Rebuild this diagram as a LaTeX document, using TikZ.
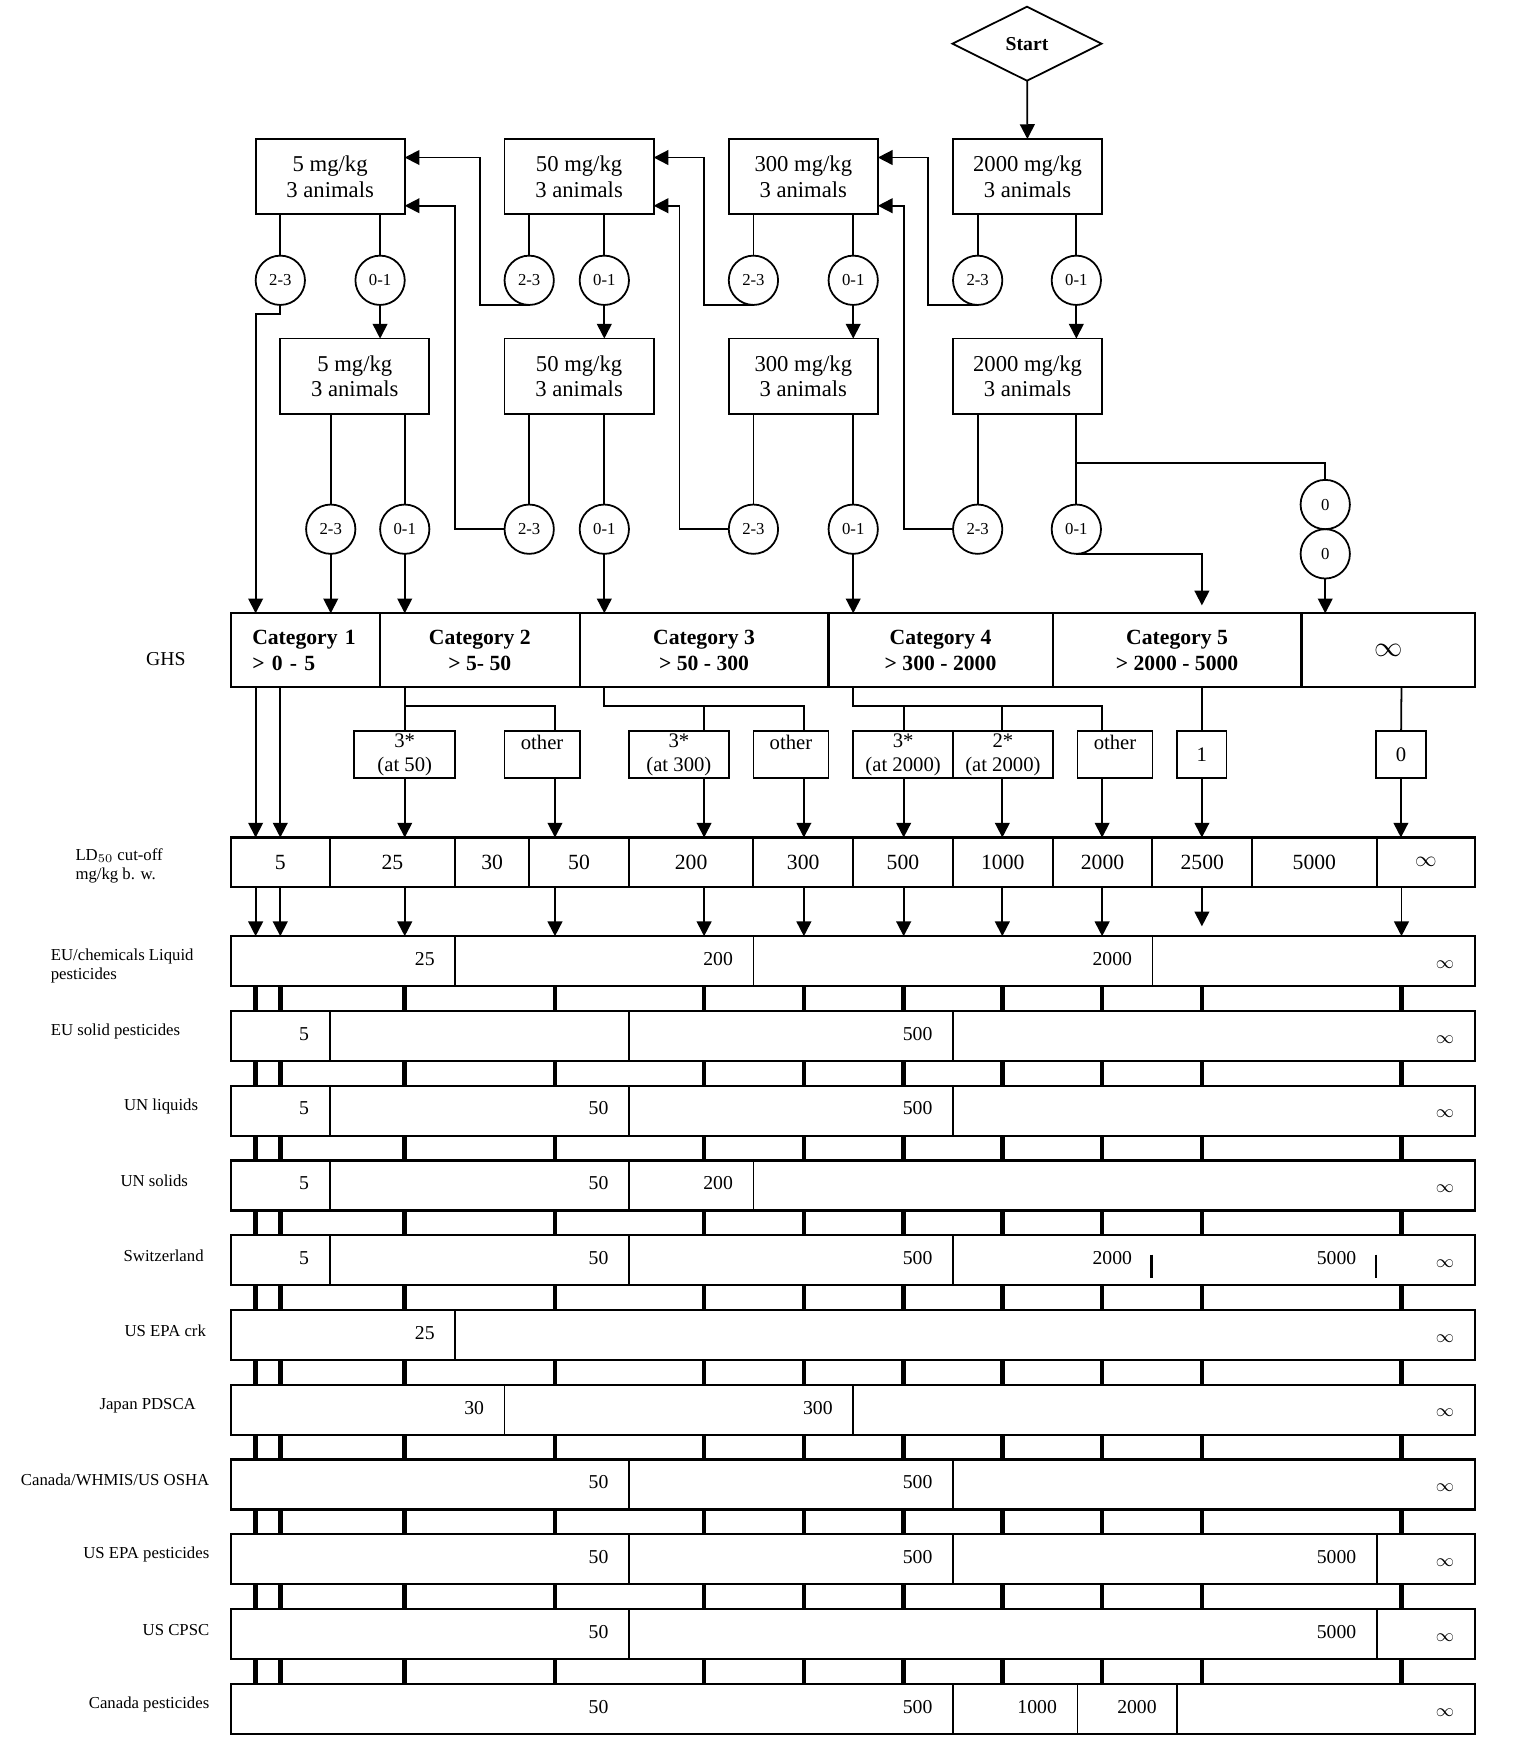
\documentclass[tikz,border=0pt]{standalone}
\usepackage{fontspec}
\setmainfont{Liberation Serif}
\usetikzlibrary{shapes.geometric,arrows.meta,positioning,calc}
\tikzset{
  dosebox/.style={rectangle, draw, line width=0.9pt, align=center, inner sep=0pt, outer sep=0pt,
                  minimum width=2.66cm, minimum height=1.34cm, font=\fontsize{11.5}{13}\selectfont},
  outc/.style={circle, draw, line width=0.9pt, inner sep=0pt, outer sep=0pt, minimum size=0.88cm,
               font=\fontsize{8.5}{10}\selectfont},
  startbox/.style={diamond, draw, line width=0.9pt, inner sep=0pt, outer sep=0pt,
                   minimum width=2.66cm, minimum height=1.32cm, font=\bfseries\fontsize{10}{12}\selectfont},
  catcell/.style={rectangle, draw, line width=1.1pt, align=center, inner sep=0pt, outer sep=0pt,
                  minimum height=1.32cm, font=\bfseries\fontsize{11}{13.5}\selectfont},
  tagbox/.style={rectangle, draw, line width=0.9pt, align=center, inner sep=0pt, outer sep=0pt,
                 minimum height=0.84cm, font=\fontsize{10.5}{12}\selectfont},
  ldcell/.style={rectangle, draw, line width=1.1pt, inner sep=0pt, outer sep=0pt,
                 minimum height=0.88cm, font=\fontsize{11}{13}\selectfont},
  rowbox/.style={rectangle, draw, line width=1.1pt, inner sep=0pt, outer sep=0pt,
                 minimum width=22.2cm, minimum height=0.892cm},
  val/.style={anchor=east, inner sep=0pt, font=\fontsize{10}{12}\selectfont},
  infval/.style={inner sep=0pt, font=\fontsize{9.5}{12}\selectfont},
  rowlabel/.style={anchor=east, inner sep=0pt, font=\fontsize{8.5}{9.7}\selectfont},
  flowarr/.style={-{Triangle[length=7.5pt,width=7.5pt]}, line width=0.9pt},
  flowline/.style={line width=0.9pt},
  bar/.style={line width=2.4pt},
}

\begin{document}
\begin{tikzpicture}[x=0.02cm, y=-0.02cm]
  \useasboundingbox (0,0) rectangle (1349,1568);
  % columns of the cut-off arrows
  \coordinate (col5a) at (228,0);
  \coordinate (col5b) at (250,0);
  \coordinate (col25) at (361,0);
  \coordinate (col50) at (495,0);
  \coordinate (col200) at (628,0);
  \coordinate (col300) at (717,0);
  \coordinate (col500) at (806,0);
  \coordinate (col1000) at (894,0);
  \coordinate (col2000) at (983,0);
  \coordinate (col2500) at (1072,0);
  \coordinate (colinf) at (1250,0);

  % dosing steps
  \node[startbox] (start) at (916,39) {Start};
  \node[dosebox, anchor=north west] (b5a)    at (228,124) {5 mg/kg\\3 animals};
  \node[dosebox, anchor=north west] (b50a)   at (450,124) {50 mg/kg\\3 animals};
  \node[dosebox, anchor=north west] (b300a)  at (650,124) {300 mg/kg\\3 animals};
  \node[dosebox, anchor=north west] (b2000a) at (850,124) {2000 mg/kg\\3 animals};
  \node[dosebox, anchor=north west] (b5b)    at (250,302) {5 mg/kg\\3 animals};
  \node[dosebox, anchor=north west] (b50b)   at (450,302) {50 mg/kg\\3 animals};
  \node[dosebox, anchor=north west] (b300b)  at (650,302) {300 mg/kg\\3 animals};
  \node[dosebox, anchor=north west] (b2000b) at (850,302) {2000 mg/kg\\3 animals};

  \node[outc] (c5a23)    at (250,250) {2-3};
  \node[outc] (c5a01)    at (339,250) {0-1};
  \node[outc] (c50a23)   at (472,250) {2-3};
  \node[outc] (c50a01)   at (539,250) {0-1};
  \node[outc] (c300a23)  at (672,250) {2-3};
  \node[outc] (c300a01)  at (761,250) {0-1};
  \node[outc] (c2000a23) at (872,250) {2-3};
  \node[outc] (c2000a01) at (960,250) {0-1};
  \node[outc] (c5b23)    at (295,472) {2-3};
  \node[outc] (c5b01)    at (361,472) {0-1};
  \node[outc] (c50b23)   at (472,472) {2-3};
  \node[outc] (c50b01)   at (539,472) {0-1};
  \node[outc] (c300b23)  at (672,472) {2-3};
  \node[outc] (c300b01)  at (761,472) {0-1};
  \node[outc] (c2000b23) at (872,472) {2-3};
  \node[outc] (c2000b01) at (960,472) {0-1};
  \node[outc] (cz1) at (1182,450) {0};
  \node[outc] (cz2) at (1182,494) {0};

  % GHS categories
  \node[rowlabel, anchor=center, font=\fontsize{10}{12}\selectfont] (ghs) at (148,588) {GHS};
  \node[catcell, minimum width=2.66cm, text width=1.9cm, align=left, anchor=north west] (cat1) at (206,547) {Category 1\\> 0 - 5};
  \node[catcell, minimum width=3.56cm, right=0pt of cat1] (cat2) {Category 2\\> 5- 50};
  \node[catcell, minimum width=4.44cm, right=0pt of cat2] (cat3) {Category 3\\> 50 - 300};
  \node[catcell, minimum width=4cm, right=0pt of cat3] (cat4) {Category 4\\> 300 - 2000};
  \node[catcell, minimum width=4.44cm, right=0pt of cat4] (cat5) {Category 5\\> 2000 - 5000};
  \node[catcell, minimum width=3.1cm, right=0pt of cat5, font=\fontsize{15}{15}\selectfont] (catinf) {$\infty$};

  \node[tagbox, minimum width=1.8cm, anchor=north west] (tag50) at (316,652) {3*\\(at 50)};
  \node[tagbox, minimum width=1.34cm, anchor=north west] (oth50) at (450,652) {other\\~};
  \node[tagbox, minimum width=1.78cm, anchor=north west] (tag300) at (561,652) {3*\\(at 300)};
  \node[tagbox, minimum width=1.34cm, anchor=north west] (oth300) at (672,652) {other\\~};
  \node[tagbox, minimum width=1.78cm, anchor=north west] (tag2000a) at (761,652) {3*\\(at 2000)};
  \node[tagbox, minimum width=1.78cm, right=0pt of tag2000a] (tag2000b) {2*\\(at 2000)};
  \node[tagbox, minimum width=1.34cm, anchor=north west] (oth2000) at (961,652) {other\\~};
  \node[tagbox, minimum width=0.88cm, anchor=north west] (tag1) at (1050,652) {1};
  \node[tagbox, minimum width=0.9cm, anchor=north west] (tag0) at (1227,652) {0};

  % LD50 cut-off values
  \node[rowlabel, anchor=west, align=left] (ldlbl) at (67,772) {LD$_{50}$ cut-off\\mg/kg b. w.};
  \node[ldcell, minimum width=1.76cm, anchor=north west] (ld5) at (206,747) {5};
  \node[ldcell, minimum width=2.24cm, right=0pt of ld5] (ld25) {25};
  \node[ldcell, minimum width=1.32cm, right=0pt of ld25] (ld30) {30};
  \node[ldcell, minimum width=1.78cm, right=0pt of ld30] (ld50) {50};
  \node[ldcell, minimum width=2.22cm, right=0pt of ld50] (ld200) {200};
  \node[ldcell, minimum width=1.78cm, right=0pt of ld200] (ld300) {300};
  \node[ldcell, minimum width=1.78cm, right=0pt of ld300] (ld500) {500};
  \node[ldcell, minimum width=1.78cm, right=0pt of ld500] (ld1000) {1000};
  \node[ldcell, minimum width=1.78cm, right=0pt of ld1000] (ld2000) {2000};
  \node[ldcell, minimum width=1.78cm, right=0pt of ld2000] (ld2500) {2500};
  \node[ldcell, minimum width=2.22cm, right=0pt of ld2500] (ld5000) {5000};
  \node[ldcell, minimum width=1.76cm, right=0pt of ld5000] (ldinf) {$\infty$};

  % national systems
  \node[rowbox, anchor=north west] (r1) at (206,835) {};
  \node[rowbox, below=4.42mm of r1] (r2) {};
  \node[rowbox, below=4.42mm of r2] (r3) {};
  \node[rowbox, below=4.42mm of r3] (r4) {};
  \node[rowbox, below=4.42mm of r4] (r5) {};
  \node[rowbox, below=4.42mm of r5] (r6) {};
  \node[rowbox, below=4.42mm of r6] (r7) {};
  \node[rowbox, below=4.42mm of r7] (r8) {};
  \node[rowbox, below=4.42mm of r8] (r9) {};
  \node[rowbox, below=4.42mm of r9] (r10) {};
  \node[rowbox, below=4.42mm of r10] (r11) {};

  \node[rowlabel, anchor=west, align=left] (lbl1) at ($(r1.west)+(-161,4)$) {EU/chemicals Liquid\\pesticides};
  \node[rowlabel, anchor=west] (lbl2) at ($(r2.west)+(-161,-4)$) {EU solid pesticides};
  \node[rowlabel] (lbl3) at ($(r3.west)+(-29,-4)$) {UN liquids};
  \node[rowlabel] (lbl4) at ($(r4.west)+(-38,-4)$) {UN solids};
  \node[rowlabel] (lbl5) at ($(r5.west)+(-24,-4)$) {Switzerland};
  \node[rowlabel] (lbl6) at ($(r6.west)+(-22,-4)$) {US EPA crk};
  \node[rowlabel] (lbl7) at ($(r7.west)+(-31,-4)$) {Japan PDSCA};
  \node[rowlabel] (lbl8) at ($(r8.west)+(-19,-4)$) {Canada/WHMIS/US OSHA};
  \node[rowlabel] (lbl9) at ($(r9.west)+(-19,-4)$) {US EPA pesticides};
  \node[rowlabel] (lbl10) at ($(r10.west)+(-19,-4)$) {US CPSC};
  \node[rowlabel] (lbl11) at ($(r11.west)+(-19,-4)$) {Canada pesticides};

  \foreach \r/\x in {r1/406, r1/672, r1/1028, r2/294, r2/561, r2/850, r3/294, r3/561, r3/850,
                     r4/294, r4/561, r4/672, r5/294, r5/561, r5/850, r6/406, r7/450, r7/761,
                     r8/561, r8/850, r9/561, r9/850, r9/1228, r10/561, r10/1228,
                     r11/850, r11/961, r11/1050}
    \draw[flowline] ($(\r.north west)+(\x-206,0)$) -- ($(\r.south west)+(\x-206,0)$);
  \foreach \r/\x/\t [count=\n] in {r1/406/25, r1/672/200, r1/1028/2000, r2/294/5, r2/850/500,
                     r3/294/5, r3/561/50, r3/850/500, r4/294/5, r4/561/50, r4/672/200,
                     r5/294/5, r5/561/50, r5/850/500, r5/1028/2000, r5/1228/5000, r6/406/25,
                     r7/450/30, r7/761/300, r8/561/50, r8/850/500, r9/561/50, r9/850/500,
                     r9/1228/5000, r10/561/50, r10/1228/5000, r11/561/50, r11/850/500,
                     r11/961/1000, r11/1050/2000}
    \node[val] (v\n) at ($(\r.west)+(\x-224,-2)$) {\t};
  \foreach \i in {1,...,11}
    \node[infval] (inf\i) at ($(r\i.east)+(-27,3)$) {$\infty$};
  \draw[line width=1.2pt] ($(r5.west)+(821,-5)$) -- ++(0,21);
  \draw[line width=1.2pt] ($(r5.west)+(1021,-5)$) -- ++(0,21);

  % dosing connections
  \draw[flowarr] (start) -- (b2000a);
  \draw[flowline] (b5a.south -| c5a23) -- (c5a23);
  \draw[flowline] (b5a.south -| c5a01) -- (c5a01);
  \draw[flowline] (b50a.south -| c50a23) -- (c50a23);
  \draw[flowline] (b50a.south -| c50a01) -- (c50a01);
  \draw[flowline] (b300a.south -| c300a23) -- (c300a23);
  \draw[flowline] (b300a.south -| c300a01) -- (c300a01);
  \draw[flowline] (b2000a.south -| c2000a23) -- (c2000a23);
  \draw[flowline] (b2000a.south -| c2000a01) -- (c2000a01);
  \draw[flowarr] (c5a01) -- (c5a01 |- b5b.north);
  \draw[flowarr] (c50a01) -- (c50a01 |- b50b.north);
  \draw[flowarr] (c300a01) -- (c300a01 |- b300b.north);
  \draw[flowarr] (c2000a01) -- (c2000a01 |- b2000b.north);
  \draw[flowline] (b5b.south -| c5b23) -- (c5b23);
  \draw[flowline] (b5b.south -| c5b01) -- (c5b01);
  \draw[flowline] (b50b.south -| c50b23) -- (c50b23);
  \draw[flowline] (b50b.south -| c50b01) -- (c50b01);
  \draw[flowline] (b300b.south -| c300b23) -- (c300b23);
  \draw[flowline] (b300b.south -| c300b01) -- (c300b01);
  \draw[flowline] (b2000b.south -| c2000b23) -- (c2000b23);
  \draw[flowline] (b2000b.south -| c2000b01) -- (c2000b01);
  % step back to the lower dose
  \draw[flowarr] (c50a23.south) -- ++(-44,0) |- ($(b5a.east)+(0,-17)$);
  \draw[flowarr] (c50b23.west) -- ++(-44,0) |- ($(b5a.east)+(0,26)$);
  \draw[flowarr] (c300a23.south) -- ++(-44,0) |- ($(b50a.east)+(0,-17)$);
  \draw[flowarr] (c300b23.west) -- ++(-44,0) |- ($(b50a.east)+(0,26)$);
  \draw[flowarr] (c2000a23.south) -- ++(-44,0) |- ($(b300a.east)+(0,-17)$);
  \draw[flowarr] (c2000b23.west) -- ++(-44,0) |- ($(b300a.east)+(0,26)$);
  % into the categories
  \draw[flowarr] (c5a23.south) -- ++(0,8) -| (col5a |- cat1.north);
  \draw[flowarr] (c5b23) -- (c5b23 |- cat1.north);
  \draw[flowarr] (c5b01) -- (c5b01 |- cat2.north);
  \draw[flowarr] (c50b01) -- (c50b01 |- cat3.north);
  \draw[flowarr] (c300b01) -- (c300b01 |- cat4.north);
  \draw[flowarr, shorten >=4pt] (c2000b01.south) -| (col2500 |- cat5.north);
  \draw[flowline] ($(b2000b.south -| c2000b01)+(0,44)$) -| (cz1);
  \draw[flowarr] (cz2) -- (cz2 |- catinf.north);

  % categories to cut-off values
  \draw[flowarr] (col5a |- cat1.south) -- (col5a |- ld5.north);
  \draw[flowarr] (col5b |- cat1.south) -- (col5b |- ld5.north);
  \draw[flowline] (col25 |- cat2.south) -- (col25 |- tag50.north);
  \draw[flowline] ($(col25 |- cat2.south)+(0,17)$) -| (col50 |- oth50.north);
  \draw[flowline] ($(cat3.south west)+(22,0)$) -- ++(0,17) -| (col300 |- oth300.north);
  \draw[flowline] (col200 |- tag300.north) -- ++(0,-22);
  \draw[flowline] ($(cat4.south west)+(22,0)$) -- ++(0,17) -| (col2000 |- oth2000.north);
  \draw[flowline] (col500 |- tag2000a.north) -- ++(0,-22);
  \draw[flowline] (col1000 |- tag2000b.north) -- ++(0,-22);
  \draw[flowline] (col2500 |- cat5.south) -- (tag1);
  \draw[flowline] (colinf |- catinf.south) -- (tag0);
  \draw[flowarr] (col25 |- tag50.south) -- (col25 |- ld25.north);
  \draw[flowarr] (col50 |- oth50.south) -- (col50 |- ld50.north);
  \draw[flowarr] (col200 |- tag300.south) -- (col200 |- ld200.north);
  \draw[flowarr] (col300 |- oth300.south) -- (col300 |- ld300.north);
  \draw[flowarr] (col500 |- tag2000a.south) -- (col500 |- ld500.north);
  \draw[flowarr] (col1000 |- tag2000b.south) -- (col1000 |- ld1000.north);
  \draw[flowarr] (col2000 |- oth2000.south) -- (col2000 |- ld2000.north);
  \draw[flowarr] (tag1) -- (tag1 |- ld2500.north);
  \draw[flowarr] (tag0) -- (tag0 |- ldinf.north);

  % cut-off values to the national systems
  \foreach \c in {col5a, col5b, col25, col50, col200, col300, col500, col1000, col2000, colinf}
    \draw[flowarr] (\c |- ld5.south) -- (\c |- r1.north);
  \draw[flowarr, shorten >=5pt] (col2500 |- ld5.south) -- (col2500 |- r1.north);
  \foreach \a/\b in {r1/r2, r2/r3, r3/r4, r4/r5, r5/r6, r6/r7, r7/r8, r8/r9, r9/r10, r10/r11}
    \foreach \c in {col5a, col5b, col25, col50, col200, col300, col500, col1000, col2000, col2500, colinf}
      \draw[bar] (\c |- \a.south) -- (\c |- \b.north);
\end{tikzpicture}
\end{document}
